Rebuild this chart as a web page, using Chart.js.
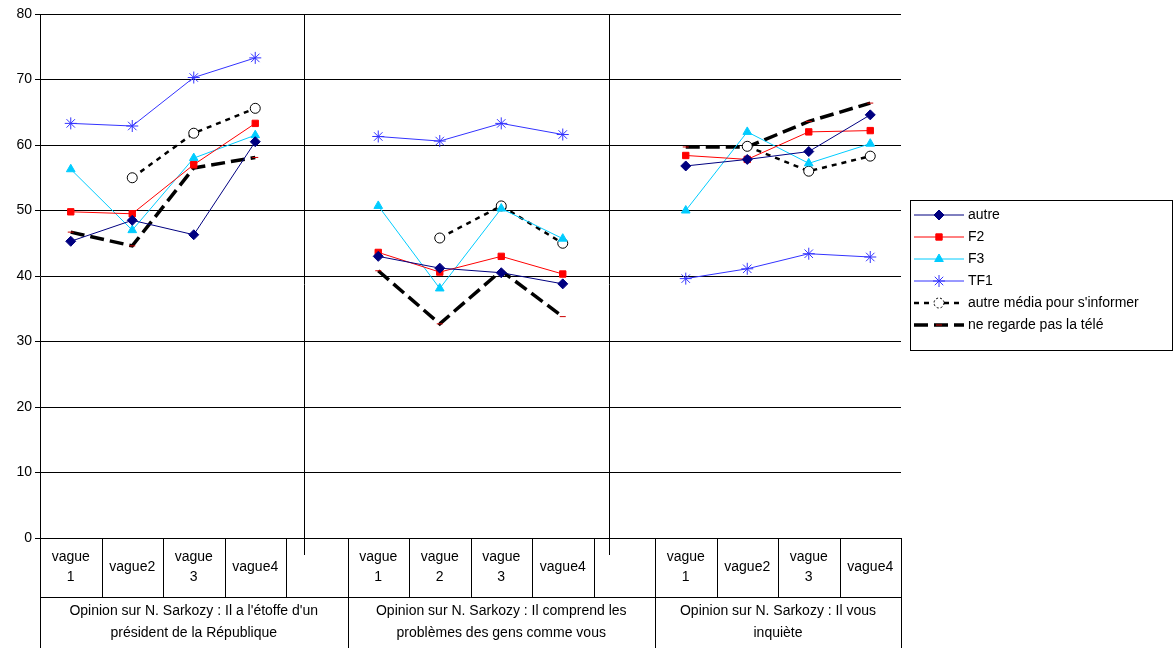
<!DOCTYPE html>
<html><head><meta charset="utf-8">
<script src="https://cdn.jsdelivr.net/npm/chart.js@4"></script>
<style>body{margin:0;background:#fff}#wrap{width:1173px;height:648px}</style>
</head><body><div id="wrap"><canvas id="c"></canvas></div>
<script>
var categories = ["vague 1","vague2","vague 3","vague4","", "vague 1","vague 2","vague 3","vague4","", "vague 1","vague2","vague 3","vague4"];
var groups = ["Opinion sur N. Sarkozy : Il a l'étoffe d'un|président de la République",
              "Opinion sur N. Sarkozy : Il comprend les|problèmes des gens comme vous",
              "Opinion sur N. Sarkozy : Il vous|inquiète"];
var autre   = [45.3,48.5,46.3,60.5,null, 43,41.2,40.5,38.8,null, 56.8,57.8,59,64.6];
var f2      = [49.8,49.5,57,63.3,null, 43.6,40.6,43,40.3,null, 58.4,57.8,62,62.2];
var f3      = [56.3,47,58,61.5,null, 50.7,38.1,50.3,45.7,null, 50,62,57.2,60.2];
var tf1     = [63.3,62.9,70.3,73.3,null, 61.3,60.6,63.3,61.6,null, 39.6,41.1,43.4,42.9];
var autreMedia = [null,55,61.8,65.6,null, null,45.8,50.7,45,null, null,59.8,56,58.3];
var neRegarde  = [46.7,44.6,56.5,58.1,null, 40.8,32.7,40.8,33.8,null, 59.7,59.7,63.6,66.4];
var yTicks = [0,10,20,30,40,50,60,70,80];

var tableau = {
  id:'tableau',
  afterDraw: function(chart){
    var ctx = chart.ctx, x = chart.scales.x, y = chart.scales.y, a = chart.chartArea;
    var w = x.getPixelForValue(1) - x.getPixelForValue(0);
    ctx.save();
    ctx.strokeStyle='#000'; ctx.lineWidth=1;
    [3.79, 8.76].forEach(function(v){
      var px = Math.round(x.getPixelForValue(v))+0.5;
      ctx.beginPath(); ctx.moveTo(px,a.top); ctx.lineTo(px,a.bottom+17); ctx.stroke();
    });
    ctx.font='14px Arial, "Liberation Sans"'; ctx.fillStyle='#000'; ctx.textAlign='center'; ctx.textBaseline='middle';
    var row = a.bottom+59;
    categories.forEach(function(c,i){
      var left = Math.round(x.getPixelForValue(i)-w/2)+0.5;
      var lineEnd = (i%5===0) ? 648 : row;
      ctx.beginPath(); ctx.moveTo(left,a.bottom); ctx.lineTo(left,lineEnd); ctx.stroke();
      var parts = c.split(' ');
      parts.forEach(function(p,k){
        ctx.fillText(p, x.getPixelForValue(i), a.bottom+29+(k-(parts.length-1)/2)*20);
      });
    });
    var last = Math.round(x.getPixelForValue(categories.length-1)+w/2)+0.5;
    ctx.beginPath(); ctx.moveTo(last,a.bottom); ctx.lineTo(last,648); ctx.stroke();
    ctx.beginPath(); ctx.moveTo(a.left,row+0.5); ctx.lineTo(last,row+0.5); ctx.stroke();
    groups.forEach(function(g,i){
      var s = i*5, e = Math.min(i*5+4, categories.length-1);
      var cx = (x.getPixelForValue(s)-w/2 + x.getPixelForValue(e)+w/2)/2;
      g.split('|').forEach(function(t,k){ ctx.fillText(t, cx, row+14+k*22); });
    });
    // legend
    var lx=910, ly=200, lh=22;
    ctx.strokeStyle='#000'; ctx.setLineDash([]);
    ctx.strokeRect(lx+0.5, ly+0.5, 262, chart.data.datasets.length*lh+18);
    ctx.textAlign='left';
    chart.data.datasets.forEach(function(d,i){
      var yy = ly+15+i*lh;
      ctx.save();
      ctx.strokeStyle=d.borderColor; ctx.lineWidth=d.borderWidth; ctx.setLineDash(d.borderDash||[]);
      ctx.beginPath(); ctx.moveTo(lx+4,yy); ctx.lineTo(lx+54,yy); ctx.stroke();
      ctx.setLineDash(d.pointBorderDash||[]);
      ctx.strokeStyle=d.pointBorderColor; ctx.fillStyle=d.pointBackgroundColor; ctx.lineWidth=1;
      Chart.helpers.drawPoint(ctx, {pointStyle:d.pointStyle, radius:d.pointRadius, borderWidth:1}, lx+29, yy);
      ctx.restore();
      ctx.fillStyle='#000';
      ctx.fillText(d.label, lx+58, yy);
    });
    ctx.restore();
  }
};

function ds(label,data,color,style,r,dash,w,fill){
  return {label:label,data:data,borderColor:color,backgroundColor:fill||color,pointStyle:style,
    pointRadius:r,pointBorderColor:color,pointBackgroundColor:fill||color,borderWidth:w||1,
    borderDash:dash||[],pointBorderWidth:1,tension:0,spanGaps:false};
}
var datasets = [
  ds('autre',autre,'#000080','rectRot',5),
  ds('F2',f2,'#ff0000','rect',4.5),
  ds('F3',f3,'#00ccff','triangle',5),
  ds('TF1',tf1,'#3333ff','star',6),
  ds("autre média pour s'informer",autreMedia,'#000000','circle',5,[5,5],2.5,'rgba(255,255,255,1)'),
  ds('ne regarde pas la télé',neRegarde,'#000000','line',3,[14,6],3.5)
];
datasets[4].pointBorderDash=[2,2];
datasets[5].pointBorderColor='#cc0000';

new Chart(document.getElementById('c'),{
  type:'line',
  data:{labels:categories,datasets:datasets},
  options:{
    responsive:true,maintainAspectRatio:false,animation:false,
    layout:{padding:{top:14,right:272,bottom:110,left:0}},
    plugins:{legend:{display:false},tooltip:{enabled:false}},
    scales:{
      x:{display:false,offset:true},
      y:{min:0,max:80,afterFit:function(s){s.width=40;},
        afterBuildTicks:function(s){s.ticks=yTicks.map(function(v){return {value:v};});},
        grid:{color:'#000',drawTicks:true,tickLength:5},border:{color:'#000'},
        ticks:{color:'#000',font:{size:14,family:'Arial, "Liberation Sans"'},padding:3}}
    }
  },
  plugins:[tableau]
});
</script></body></html>
